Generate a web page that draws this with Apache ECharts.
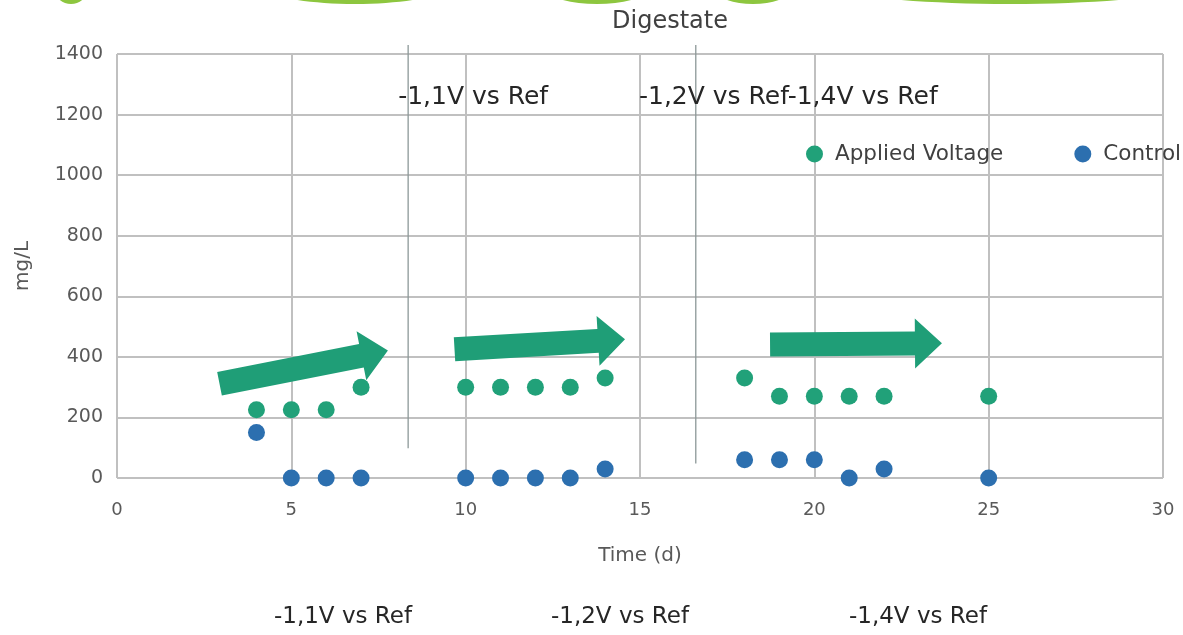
<!DOCTYPE html>
<html><head><meta charset="utf-8">
<script src="https://cdn.jsdelivr.net/npm/echarts/dist/echarts.min.js"></script>
<style>html,body{margin:0;padding:0;background:#fff}#c{width:1183px;height:635px}</style>
</head><body><div id="c"></div><script>
// ---- data ----
const days = [4, 5, 6, 7, 10, 11, 12, 13, 14, 18, 19, 20, 21, 22, 25];
const appliedVoltage = [225, 225, 225, 300, 300, 300, 300, 300, 330, 330, 270, 270, 270, 270, 270];
const control = [150, 0, 0, 0, 0, 0, 0, 0, 30, 60, 60, 60, 0, 30, 0];
const seriesNames = ['Applied Voltage', 'Control'];
const phaseLabels = ['-1,1V vs Ref', '-1,2V vs Ref', '-1,4V vs Ref'];
// separator lines: [day, lower end value]
const separators = [[8.35, 98], [16.6, 48]];
// trend arrows: [[tailDay, tailValue], [tipDay, tipValue]]
const arrows = [
  [[2.94, 311], [7.77, 421]],
  [[9.68, 425], [14.57, 458]],
  [[18.73, 441], [23.66, 445]]
];

const FONT = 'DejaVu Sans';
const GREEN = '#21A179';
const BLUE = '#2C6FAF';
const GRIDC = '#C0C0C0';

const chart = echarts.init(document.getElementById('c'), null, {renderer: 'canvas'});
const toPts = (ys) => days.map((d, i) => [d, ys[i]]);

chart.setOption({
  animation: false,
  backgroundColor: '#fff',
  grid: {left: 117, top: 54, width: 1046, height: 424, containLabel: false},
  legend: {
    data: seriesNames,
    orient: 'horizontal',
    left: 806, top: 143, width: 440, padding: 0,
    icon: 'circle', itemWidth: 17, itemHeight: 17, itemGap: 71,
    textStyle: {fontFamily: FONT, fontSize: 21.5, color: '#404040', padding: [0, 0, 0, 7]}
  },
  xAxis: {
    type: 'value', min: 0, max: 30, interval: 5,
    axisLine: {show: false}, axisTick: {show: false},
    splitLine: {show: true, lineStyle: {color: GRIDC, width: 2}},
    axisLabel: {fontFamily: FONT, fontSize: 18, color: '#595959', margin: 23},
    name: 'Time (d)', nameLocation: 'middle', nameGap: 68,
    nameTextStyle: {fontFamily: FONT, fontSize: 20, color: '#595959'}
  },
  yAxis: {
    type: 'value', min: 0, max: 1400, interval: 200,
    axisLine: {show: false}, axisTick: {show: false},
    splitLine: {show: true, lineStyle: {color: GRIDC, width: 2}},
    axisLabel: {fontFamily: FONT, fontSize: 19, color: '#595959', margin: 14,
      formatter: (v) => String(v)},
    name: 'mg/L', nameLocation: 'middle', nameGap: 84,
    nameTextStyle: {fontFamily: FONT, fontSize: 20, color: '#595959'}
  },
  series: [
    {name: seriesNames[0], type: 'scatter', symbolSize: 17, data: toPts(appliedVoltage),
     itemStyle: {color: GREEN, opacity: 1}, z: 3},
    {name: seriesNames[1], type: 'scatter', symbolSize: 17, data: toPts(control),
     itemStyle: {color: BLUE, opacity: 1}, z: 3}
  ]
});

// ---- annotations positioned through the chart's own scales ----
const px = (p) => chart.convertToPixel({gridIndex: 0}, p);
const graphics = [];

// top decorative banner edges
[[71, 19], [355, 98], [597, 58], [753, 44], [1010, 185]].forEach(([cx, rx]) => {
  graphics.push({type: 'ellipse', shape: {cx: cx, cy: -17, rx: rx, ry: 21},
    style: {fill: '#8DC63F'}, z: 1, silent: true});
});

// title
graphics.push({type: 'text', x: 670, y: 22, style: {text: 'Digestate', fontFamily: FONT, fontSize: 24,
  fill: '#404040', align: 'center', verticalAlign: 'middle'}, z: 10});

// separators
const topPx = px([0, 1400])[1];
separators.forEach(([d, v]) => {
  const b = px([d, v]);
  graphics.push({type: 'line', shape: {x1: b[0], y1: topPx - 9, x2: b[0], y2: b[1]},
    style: {stroke: '#8C9898', lineWidth: 1.3}, z: 5});
});

// top phase labels
const l1 = px([separators[0][0], 1200]);
graphics.push({type: 'text', x: l1[0] - 10, y: 97, style: {text: phaseLabels[0], fontFamily: FONT, fontSize: 25,
  fill: '#262626', align: 'left', verticalAlign: 'middle'}, z: 10});
graphics.push({type: 'text', x: 639, y: 97, style: {text: phaseLabels[1] + phaseLabels[2], fontFamily: FONT, fontSize: 25,
  fill: '#262626', align: 'left', verticalAlign: 'middle'}, z: 10});

// bottom phase labels
[343, 620, 918].forEach((cx, i) => {
  graphics.push({type: 'text', x: cx, y: 617, style: {text: phaseLabels[i], fontFamily: FONT, fontSize: 23,
    fill: '#262626', align: 'center', verticalAlign: 'middle'}, z: 10});
});

// arrows
const SHAFT = 12, HEAD = 25, HEADLEN = 27;
arrows.forEach(([t, p]) => {
  const T = px(t), P = px(p);
  const dx = P[0] - T[0], dy = P[1] - T[1], L = Math.hypot(dx, dy);
  const ux = dx / L, uy = dy / L, nx = -uy, ny = ux;
  const H = [P[0] - ux * HEADLEN, P[1] - uy * HEADLEN];
  const pts = [
    [T[0] + nx * SHAFT, T[1] + ny * SHAFT],
    [H[0] + nx * SHAFT, H[1] + ny * SHAFT],
    [H[0] + nx * HEAD, H[1] + ny * HEAD],
    P,
    [H[0] - nx * HEAD, H[1] - ny * HEAD],
    [H[0] - nx * SHAFT, H[1] - ny * SHAFT],
    [T[0] - nx * SHAFT, T[1] - ny * SHAFT]
  ];
  graphics.push({type: 'polygon', shape: {points: pts}, style: {fill: '#1F9E77'}, z: 6});
});

chart.setOption({graphic: graphics});
</script></body></html>
